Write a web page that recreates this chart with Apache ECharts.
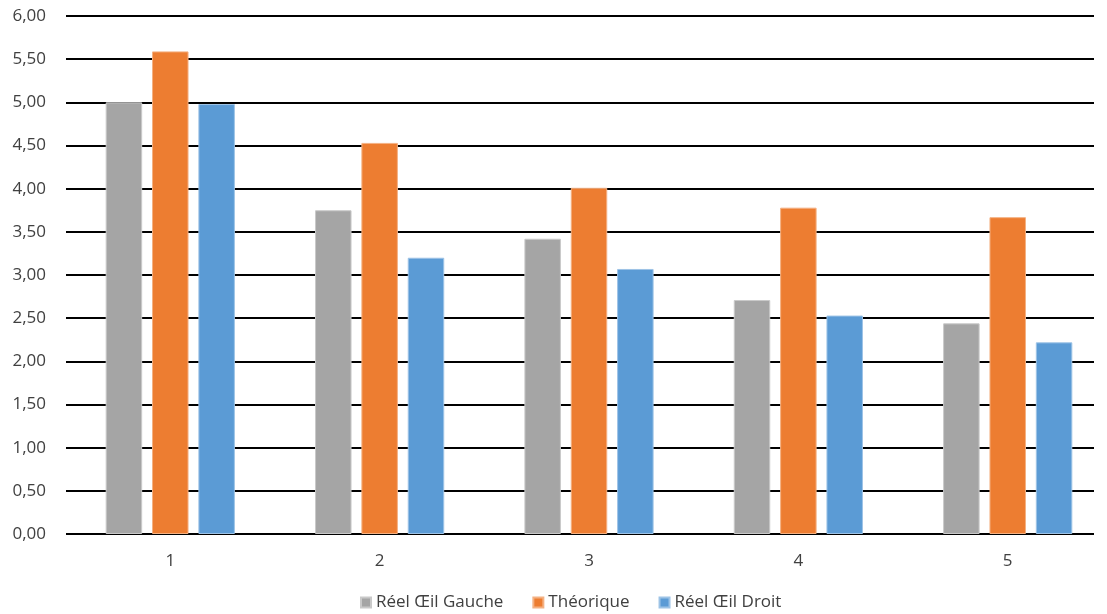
<!DOCTYPE html>
<html>
<head>
<meta charset="utf-8">
<script src="https://cdn.jsdelivr.net/npm/echarts@6/dist/echarts.min.js"></script>
<style>
html,body{margin:0;padding:0;background:#fff;}
#main{width:1107px;height:614px;}
</style>
</head>
<body>
<div id="main"></div>
<script>
const categories = ['1', '2', '3', '4', '5'];
const reelGauche = [5.00, 3.75, 3.42, 2.71, 2.44];
const theorique = [5.59, 4.53, 4.01, 3.78, 3.67];
const reelDroit = [4.98, 3.20, 3.07, 2.53, 2.22];
const seriesNames = ['Réel Œil Gauche', 'Théorique', 'Réel Œil Droit'];
const yTicks = {min: 0, max: 6, interval: 0.5};

const font = "'Open Sans', 'Noto Sans', sans-serif";
const chart = echarts.init(document.getElementById('main'), null, {renderer: 'canvas'});
const barStyle = (c, b) => ({color: c, borderColor: b, borderWidth: 1});
chart.setOption({
  animation: false,
  backgroundColor: '#fff',
  grid: [
    {left: 66, right: 13, top: 16, bottom: 80, containLabel: false, outerBoundsMode: 'none'},
    {left: 65.6, right: -5.4, top: 16, bottom: 80, containLabel: false, outerBoundsMode: 'none'}
  ],
  legend: {
    bottom: -2, left: 355,
    itemWidth: 10, itemHeight: 10, itemGap: 29,
    icon: 'rect',
    textStyle: {fontFamily: font, fontSize: 17, color: '#404040'},
    data: seriesNames
  },
  xAxis: [
    {gridIndex: 0, type: 'category', data: categories, show: false},
    {
      gridIndex: 1,
      type: 'category',
      data: categories,
      axisLine: {show: false},
      axisTick: {show: false},
      axisLabel: {fontFamily: font, fontSize: 17, color: '#404040', margin: 19}
    }
  ],
  yAxis: [
    {
      gridIndex: 0,
      type: 'value',
      min: yTicks.min, max: yTicks.max, interval: yTicks.interval,
      axisLine: {show: false},
      axisTick: {show: false},
      splitLine: {lineStyle: {color: '#000', width: 2}},
      axisLabel: {
        fontFamily: font, fontSize: 17, color: '#404040', margin: 20,
        formatter: (v) => v.toFixed(2).replace('.', ',')
      }
    },
    {
      gridIndex: 1,
      type: 'value',
      min: yTicks.min, max: yTicks.max, interval: yTicks.interval,
      show: false,
      splitLine: {show: false}
    }
  ],
  series: [
    {name: seriesNames[0], type: 'bar', xAxisIndex: 1, yAxisIndex: 1, data: reelGauche, barWidth: 36.5, barGap: '27%', itemStyle: barStyle('#A5A5A5', '#C9C9C9')},
    {name: seriesNames[1], type: 'bar', xAxisIndex: 1, yAxisIndex: 1, data: theorique, barWidth: 36.5, barGap: '27%', itemStyle: barStyle('#ED7D31', '#F4B183')},
    {name: seriesNames[2], type: 'bar', xAxisIndex: 1, yAxisIndex: 1, data: reelDroit, barWidth: 36.5, barGap: '27%', itemStyle: barStyle('#5B9BD5', '#9DC3E6')}
  ]
});
</script>
</body>
</html>
